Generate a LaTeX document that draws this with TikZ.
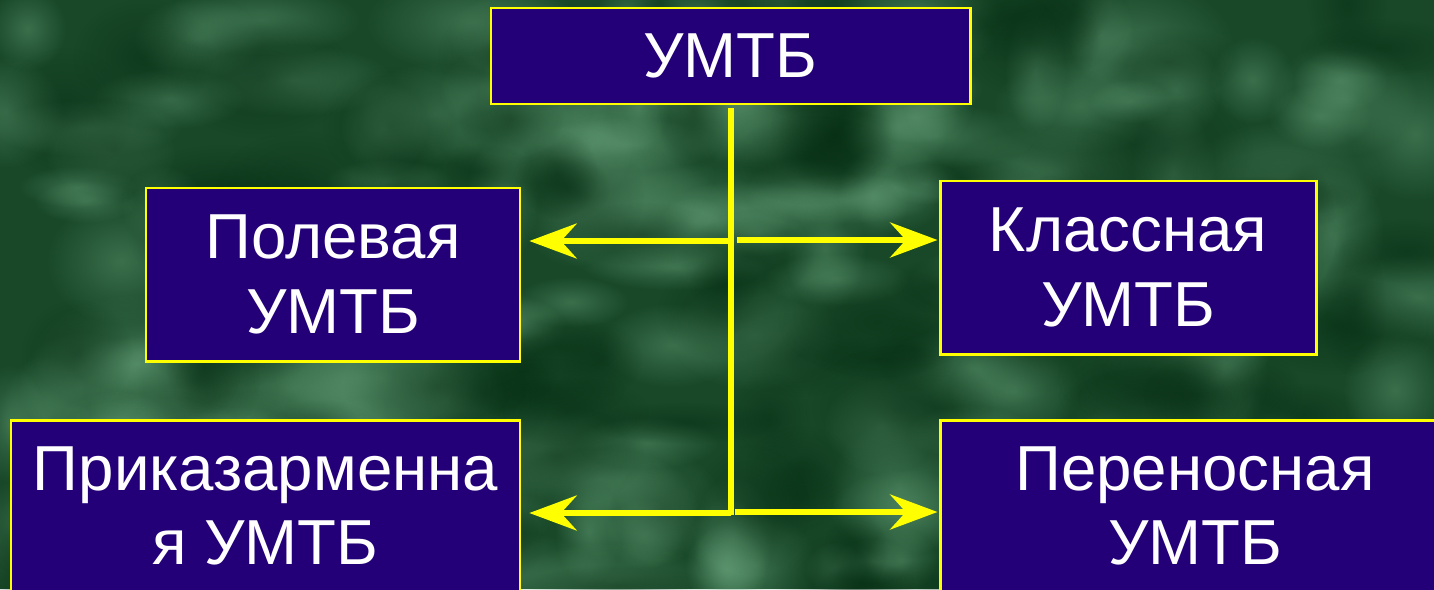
\documentclass[tikz,border=0pt]{standalone}
\usepackage{fontspec}
\setmainfont{Liberation Sans}
\usetikzlibrary{arrows.meta,fadings}
\definecolor{bgdark}{RGB}{24,72,40}
\definecolor{bglight}{RGB}{120,180,140}
\definecolor{bgdeep}{RGB}{4,42,16}
\definecolor{boxblue}{RGB}{36,0,120}
\definecolor{lineyellow}{RGB}{255,255,0}
\tikzfading[name=softblob, inner color=transparent!20, outer color=transparent!100]
\tikzset{
  umbox/.style={draw=lineyellow, line width=1.7pt, fill=boxblue, text=white,
    font=\fontsize{36.2}{42.5}\selectfont, align=center, inner sep=0pt},
  conn/.style={draw=lineyellow, line width=3pt},
  arr/.style={conn, -{Stealth[length=27pt, width=20pt, inset=9pt]}},
}
\begin{document}
\begin{tikzpicture}[x=0.02cm, y=-0.02cm]
\useasboundingbox (0,0) rectangle (1434,589);
\begin{scope}
\clip (0,0) rectangle (1434,589);
\fill[bgdark] (0,0) rectangle (1434,589);
\pgfmathsetseed{7}
\foreach \i in {1,...,170}{
  \pgfmathsetmacro{\px}{rnd*1434}
  \pgfmathsetmacro{\py}{rnd*589}
  \pgfmathsetmacro{\rx}{30+rnd*80}
  \pgfmathsetmacro{\ry}{20+rnd*50}
  \fill[bglight, path fading=softblob, opacity=0.45] (\px,\py) ellipse [x radius=\rx, y radius=\ry];
}
\foreach \i in {1,...,110}{
  \pgfmathsetmacro{\px}{rnd*1434}
  \pgfmathsetmacro{\py}{rnd*589}
  \pgfmathsetmacro{\rx}{30+rnd*70}
  \pgfmathsetmacro{\ry}{20+rnd*50}
  \fill[bgdeep, path fading=softblob, opacity=0.55] (\px,\py) ellipse [x radius=\rx, y radius=\ry];
}
% boxes
\node[umbox, minimum width=479*0.02cm, minimum height=96*0.02cm] (top) at (730.5,56) {УМТБ};
\node[umbox, minimum width=374*0.02cm, minimum height=173*0.02cm] (pol) at (333,274.5) {Полевая\\УМТБ};
\node[umbox, minimum width=376*0.02cm, minimum height=173*0.02cm] (kls) at (1128,267.5) {Классная\\УМТБ};
\node[umbox, minimum width=509*0.02cm, minimum height=172*0.02cm] (pri) at (265.5,506) {Приказарменна\\я УМТБ};
\node[umbox, minimum width=510*0.02cm, minimum height=172*0.02cm] (per) at (1195,506) {Переносная\\УМТБ};
% connectors
\coordinate (vt) at (731,108);
\coordinate (vb) at (731,515);
\coordinate (jl1) at (728,241);
\coordinate (jr1) at (737,240);
\coordinate (jl2) at (731,513);
\coordinate (jr2) at (735,512);
\draw[conn] (vt) -- (vb);
\draw[arr, shorten >=4.5pt] (jl1) -- (jl1 -| pol.east);
\draw[arr, shorten >=0.6pt] (jr1) -- (jr1 -| kls.west);
\draw[arr, shorten >=4.5pt] (jl2) -- (jl2 -| pri.east);
\draw[arr, shorten >=0.6pt] (jr2) -- (jr2 -| per.west);
\end{scope}
\end{tikzpicture}
\end{document}
